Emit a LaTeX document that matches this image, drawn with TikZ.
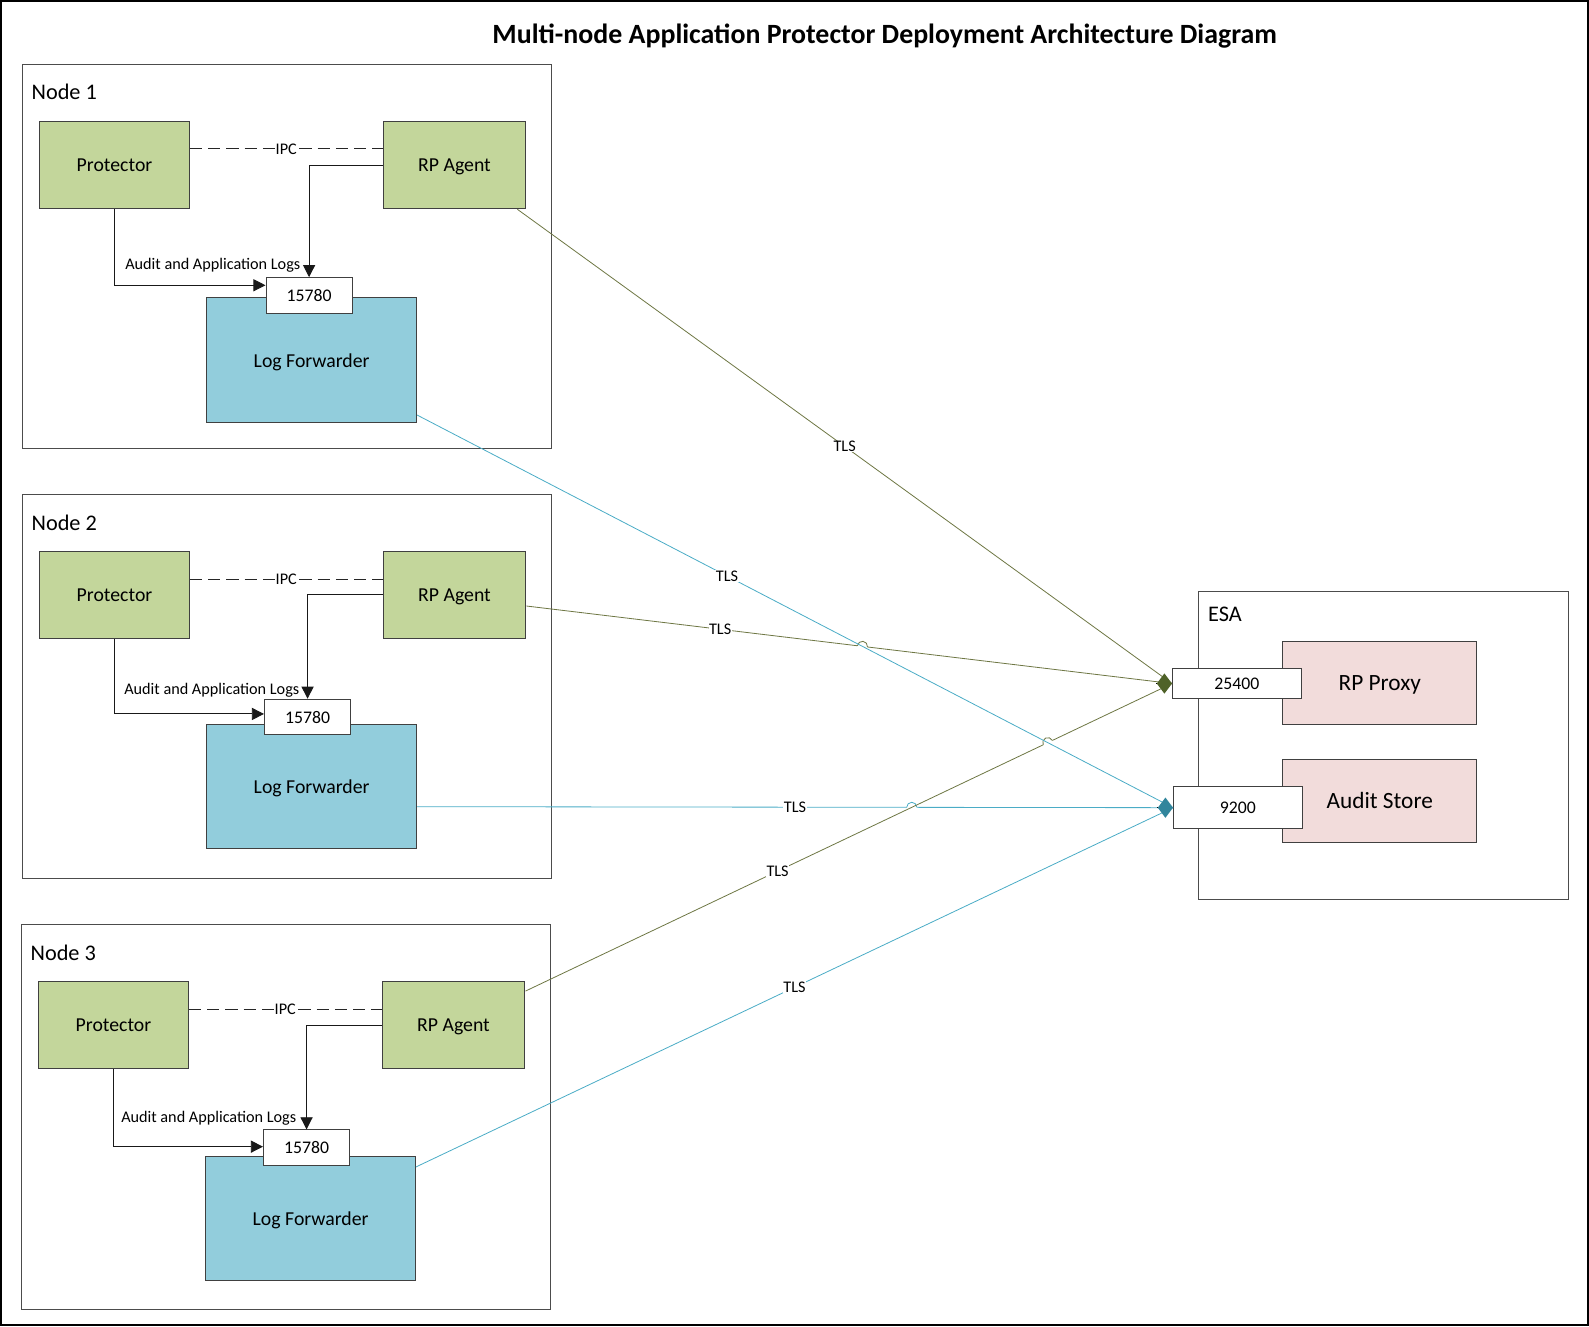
\documentclass[tikz,border=0pt]{standalone}
\usepackage{fontspec}
\setmainfont{Carlito}
\usepackage{tikz}
\usetikzlibrary{arrows.meta,positioning,intersections}
\definecolor{agentgreen}{HTML}{C3D69B}
\definecolor{fwdblue}{HTML}{92CDDC}
\definecolor{esapink}{HTML}{F2DCDB}
\definecolor{tlsolive}{HTML}{6E7744}
\definecolor{tlsteal}{HTML}{4BACC6}
\definecolor{tipolive}{HTML}{4F6228}
\definecolor{tipteal}{HTML}{31859C}
\def\linehop#1#2#3{\begin{scope}[shift={(#1)},rotate=#2]
\draw[white,line width=3pt] (-5,0) -- (5,0);
\draw[#3,line width=0.8pt] (-5,0) arc (180:360:5);
\end{scope}}

\begin{document}
\begin{tikzpicture}[x=1pt,y=-1pt]
\tikzset{box/.style={draw=black!75,line width=1pt,inner sep=0pt,text depth=0pt,font=\fontsize{19.5}{22}\selectfont}}
\tikzset{comp/.style={box,fill=agentgreen,minimum height=86pt}}
\tikzset{fwd/.style={box,fill=fwdblue,minimum width=207pt,minimum height=123pt}}
\tikzset{port/.style={box,fill=white,minimum height=35pt,font=\fontsize{17.5}{20}\selectfont}}
\tikzset{esabox/.style={box,fill=esapink,minimum width=191pt,minimum height=82pt,font=\fontsize{23}{26}\selectfont}}
\tikzset{host/.style={draw=black!70,line width=1pt,inner sep=0pt}}
\tikzset{hostname/.style={font=\fontsize{22}{26}\selectfont,anchor=west,inner sep=0pt}}
\tikzset{lbl/.style={font=\fontsize{16}{18}\selectfont,inner sep=1pt}}
\tikzset{logarrow/.style={draw=black!90,line width=0.9pt,-{Triangle[length=12pt,width=12pt]}}}
\tikzset{ipc/.style={draw=black!85,line width=1pt,dash pattern=on 12pt off 6pt}}
\tikzset{tlsg/.style={draw=tlsolive,line width=0.8pt}}
\tikzset{tlsb/.style={draw=tlsteal,line width=0.8pt}}
\tikzset{tls/.style={lbl,fill=white,inner sep=0.5pt}}
\tikzset{tlstip/.style={line width=0pt,-{Diamond[length=15pt,width=20pt,color=#1]}}}

\useasboundingbox (0,0) rectangle (1568,1309);
\draw[line width=2pt] (1,1) rectangle (1567,1307);
\node[font=\bfseries\fontsize{27.5}{32}\selectfont] (diagtitle) at (873,36) {Multi-node Application Protector Deployment Architecture Diagram};

% node 1
\node[host,minimum width=522pt,minimum height=379pt] (host1) at (283,253.5) {};
\node[hostname] (hdr1) at (31,91) {Node 1};
\node[comp,minimum width=148pt] (prot1) at (113,163) {Protector};
\node[comp,minimum width=141pt] (agent1) at (448.5,163) {RP Agent};
\node[fwd] (logfwd1) at (307.5,355.5) {Log Forwarder};
\node[port,minimum width=85pt] (port1) at (305,291.5) {15780};
\draw[ipc] ([yshift=16pt]prot1.east) -- node[lbl,fill=white] (ipc1) {IPC} ([yshift=16pt]agent1.west);
\draw[logarrow] (prot1.south) |- ([yshift=10pt]port1.west);
\draw[logarrow] (agent1.west) -| (port1.north);
\node[lbl] (logs1) at (210,262) {Audit and Application Logs};

% node 2
\node[host,minimum width=522pt,minimum height=379pt] (host2) at (283,677.5) {};
\node[hostname] (hdr2) at (31,516) {Node 2};
\node[comp,minimum width=148pt] (prot2) at (113,587) {Protector};
\node[comp,minimum width=141pt] (agent2) at (448.5,587) {RP Agent};
\node[fwd] (logfwd2) at (307.5,776) {Log Forwarder};
\node[port,minimum width=85pt] (port2) at (303.5,707.5) {15780};
\draw[ipc] ([yshift=15pt]prot2.east) -- node[lbl,fill=white] (ipc2) {IPC} ([yshift=15pt]agent2.west);
\draw[logarrow] (prot2.south) |- ([yshift=3pt]port2.west);
\draw[logarrow] (agent2.west) -| (port2.north);
\node[lbl] (logs2) at (209,681) {Audit and Application Logs};

% node 3
\node[host,minimum width=522pt,minimum height=380pt] (host3) at (282,1102) {};
\node[hostname] (hdr3) at (30,940) {Node 3};
\node[comp,minimum width=148pt] (prot3) at (112,1011.5) {Protector};
\node[comp,minimum width=141pt] (agent3) at (447.5,1011.5) {RP Agent};
\node[fwd] (logfwd3) at (306.5,1202.5) {Log Forwarder};
\node[port,minimum width=85pt] (port3) at (302.5,1132.5) {15780};
\draw[ipc] ([yshift=15.5pt]prot3.east) -- node[lbl,fill=white] (ipc3) {IPC} ([yshift=15.5pt]agent3.west);
\draw[logarrow] (prot3.south) |- ([yshift=1pt]port3.west);
\draw[logarrow] (agent3.west) -| (port3.north);
\node[lbl] (logs3) at (206,1103) {Audit and Application Logs};

% ESA
\node[host,minimum width=365pt,minimum height=304pt] (esa) at (1365.5,736) {};
\node[hostname] (esahdr) at (1192,606) {ESA};
\node[esabox] (proxy) at (1361.5,674) {RP Proxy};
\node[esabox] (audit) at (1361.5,790) {Audit Store};
\node[port,minimum width=127pt,minimum height=29pt] (proxyport) at (1220.5,674.5) {25400};
\node[port,minimum width=127pt,minimum height=42pt] (auditport) at (1221.5,797) {9200};

% TLS links, with hops where they cross
\path[name path=ag2] ([yshift=-11pt]agent2.east) -- (proxyport.west);
\path[name path=ag3] ([yshift=-10pt]agent3.north east) -- (proxyport.west);
\path[name path=lf1] ([yshift=8pt]logfwd1.south east) -- (auditport.west);
\path[name path=lf2] ([yshift=-20pt]logfwd2.east) -- (auditport.west);
\path[name intersections={of=ag2 and lf1,by=hopa}];
\path[name intersections={of=ag3 and lf1,by=hopb}];
\path[name intersections={of=ag3 and lf2,by=hopc}];

\draw[tlsb] ([yshift=-20pt]logfwd2.east) -- node[tls,pos=0.5] (tlsl2) {TLS} (auditport.west);
\linehop{hopc}{0}{tlsteal}
\draw[tlsg] ([xshift=-9pt]agent1.south east) -- node[tls,pos=0.5] (tlsa1) {TLS} (proxyport.west);
\draw[tlsg] ([yshift=-11pt]agent2.east) -- node[tls,pos=0.3] (tlsa2) {TLS} (proxyport.west);
\draw[tlsg] ([yshift=-10pt]agent3.north east) -- node[tls,pos=0.39] (tlsa3) {TLS} (proxyport.west);
\linehop{hopa}{-6.8}{tlsolive}
\linehop{hopb}{25.4}{tlsolive}
\draw[tlsb] ([yshift=8pt]logfwd1.south east) -- node[tls,pos=0.41] (tlsl1) {TLS} (auditport.west);
\draw[tlsb] ([yshift=-11pt]logfwd3.north east) -- node[tls,pos=0.5] (tlsl3) {TLS} (auditport.west);
\draw[tlstip=tipolive] ([xshift=-15pt]proxyport.west) -- (proxyport.west);
\draw[tlstip=tipteal] ([xshift=-15pt]auditport.west) -- (auditport.west);
\end{tikzpicture}
\end{document}
